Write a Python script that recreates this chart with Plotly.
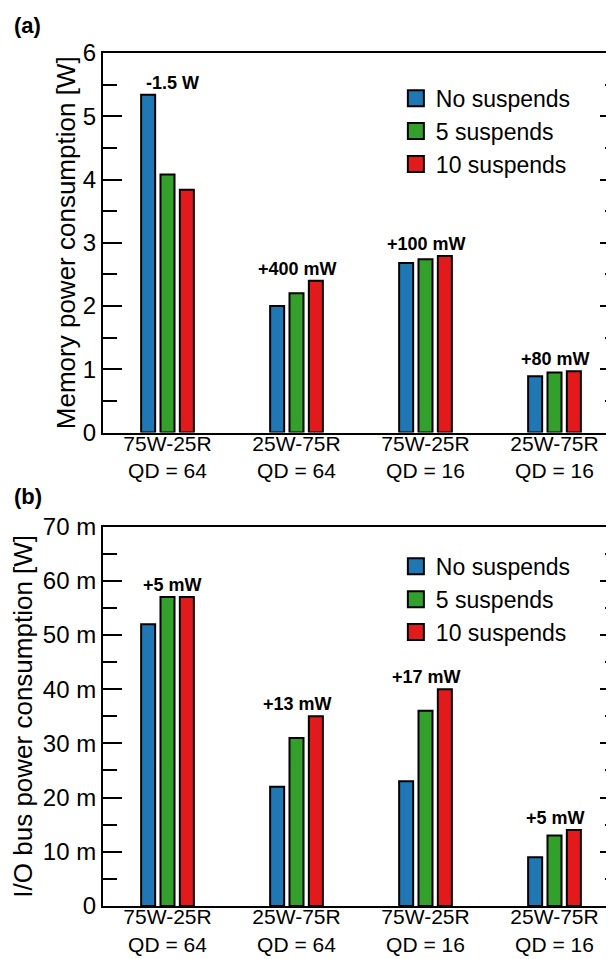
import plotly.graph_objects as go

# ---------------- data ----------------
categories = ["75W-25R QD = 64", "25W-75R QD = 64", "75W-25R QD = 16", "25W-75R QD = 16"]
mix_labels = ["75W-25R", "25W-75R", "75W-25R", "25W-75R"]
qd_labels = ["QD = 64", "QD = 64", "QD = 16", "QD = 16"]

series_names = ["No suspends", "5 suspends", "10 suspends"]
series_colors = ["#1f78b4", "#33a02c", "#e31a1c"]

mem_no = [5.34, 2.00, 2.68, 0.89]
mem_5 = [4.08, 2.20, 2.74, 0.95]
mem_10 = [3.84, 2.40, 2.79, 0.97]
mem_delta = ["-1.5 W", "+400 mW", "+100 mW", "+80 mW"]

io_no = [0.052, 0.022, 0.023, 0.009]
io_5 = [0.057, 0.031, 0.036, 0.013]
io_10 = [0.057, 0.035, 0.040, 0.014]
io_delta = ["+5 mW", "+13 mW", "+17 mW", "+5 mW"]

mem_tickvals = [0, 1, 2, 3, 4, 5, 6]
mem_ticktext = ["0", "1", "2", "3", "4", "5", "6"]
io_tickvals = [0, 0.01, 0.02, 0.03, 0.04, 0.05, 0.06, 0.07]
io_ticktext = ["0", "10 m", "20 m", "30 m", "40 m", "50 m", "60 m", "70 m"]

x_ticktext = [f"{m}<br>{q}" for m, q in zip(mix_labels, qd_labels)]

# ---------------- figure ----------------
# the page body has an 8px margin, so positions are laid out 8px up/left
OFF = 8
W, H = 614, 959
L = 103.3 - OFF            # left axis
RIGHT = 619 - OFF          # right axis (just outside the visible window, as in the reference)
T = 53.3 - OFF             # top of panel (a)
BOT = 906 - OFF            # bottom of panel (b)
R = W - RIGHT
B = H - BOT
PW, PH = W - L - R, H - T - B
FONT = "Liberation Sans, Arial, Helvetica, sans-serif"


def px_x(px):
    return (px - OFF - L) / PW


def px_y(py):
    return (BOT - (py - OFF)) / PH


fig = go.Figure()

panels = [
    ("x", "y", "legend", [mem_no, mem_5, mem_10], mem_delta),
    ("x2", "y2", "legend2", [io_no, io_5, io_10], io_delta),
]

for xa, ya, lg, vals, deltas in panels:
    for name, color, v in zip(series_names, series_colors, vals):
        fig.add_trace(go.Bar(
            x=categories, y=v, name=name, xaxis=xa, yaxis=ya,
            marker=dict(color=color, line=dict(color="black", width=2)),
            showlegend=False,
        ))
    for name, color in zip(series_names, series_colors):
        fig.add_trace(go.Scatter(
            x=[None], y=[None], mode="markers", name=name, xaxis=xa, yaxis=ya,
            legend=lg, hoverinfo="skip",
            marker=dict(symbol="square", size=16, color=color,
                        line=dict(color="black", width=2)),
        ))
    for i, (c, a, b, d, txt) in enumerate(zip(categories, vals[0], vals[1], vals[2], deltas)):
        fig.add_annotation(
            x=c, y=max(a, b, d), xref=xa, yref=ya, text=txt, showarrow=False,
            yanchor="middle", yshift=12, xshift=5 if i == 0 else 1,
            font=dict(family=FONT, size=18, color="black", weight="bold"),
        )

xrange_ = [-0.5, 3.5]

common_x = dict(
    range=xrange_, showline=True, linecolor="black", linewidth=2, mirror=True,
    ticks="", showgrid=False, zeroline=False, tickangle=0, ticklabelstandoff=-9,
    tickmode="array", tickvals=categories, ticktext=x_ticktext,
    tickfont=dict(family=FONT, size=21, color="black"),
)
common_y = dict(
    showline=True, linecolor="black", linewidth=2, mirror="ticks",
    ticks="inside", ticklen=19, tickwidth=2, tickcolor="black",
    showgrid=False, zeroline=False,
    tickfont=dict(family=FONT, size=24, color="black"),
)

legend_common = dict(xref="paper", yref="paper", xanchor="left", yanchor="top",
                     itemsizing="trace", bgcolor="rgba(0,0,0,0)",
                     font=dict(family=FONT, size=23, color="black"))

fig.update_layout(
    width=W, height=H,
    margin=dict(l=L, r=R, t=T, b=B, autoexpand=False),
    plot_bgcolor="white", paper_bgcolor="white",
    barmode="group", bargap=0.55, bargroupgap=0.275,
    font=dict(family=FONT, color="black"),
    xaxis=dict(domain=[0, 1], anchor="y", **common_x),
    xaxis2=dict(domain=[0, 1], anchor="y2", **common_x),
    yaxis=dict(domain=[px_y(432.7), 1.0], anchor="x", range=[0, 6],
               tickmode="array", tickvals=mem_tickvals, ticktext=mem_ticktext,
               minor=dict(dtick=0.5, ticklen=14, ticks="inside", tickwidth=2, tickcolor="black"),
               title=dict(text="Memory power consumption [W]", standoff=0,
                          font=dict(family=FONT, size=26, color="black")),
               **common_y),
    yaxis2=dict(domain=[0, px_y(526.7)], anchor="x2", range=[0, 0.07],
                tickmode="array", tickvals=io_tickvals, ticktext=io_ticktext,
                minor=dict(dtick=0.005, ticklen=14, ticks="inside", tickwidth=2, tickcolor="black"),
                title=dict(text="I/O bus power consumption [W]", standoff=5,
                           font=dict(family=FONT, size=26, color="black")),
                **common_y),
    legend=dict(x=px_x(396), y=px_y(77), **legend_common),
    legend2=dict(x=px_x(396), y=px_y(545), **legend_common),
)

fig.add_annotation(x=px_x(12), y=px_y(26), xref="paper", yref="paper",
                   text="(a)", showarrow=False, xanchor="left", yanchor="middle",
                   font=dict(family=FONT, size=22, color="black", weight="bold"))
fig.add_annotation(x=px_x(12), y=px_y(497), xref="paper", yref="paper",
                   text="(b)", showarrow=False, xanchor="left", yanchor="middle",
                   font=dict(family=FONT, size=22, color="black", weight="bold"))

fig.write_html("out.html")
